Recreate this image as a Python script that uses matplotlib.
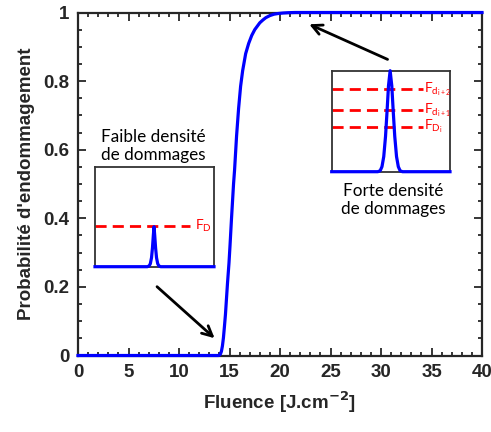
import matplotlib
matplotlib.use("Agg")
import matplotlib.pyplot as plt
from matplotlib.ticker import MultipleLocator

# Main curve
fluence = [0, 13.9, 14.0, 14.1, 14.2, 14.3, 14.4, 14.5, 14.6, 14.7, 14.8, 14.95,
           15.05, 15.2, 15.3, 15.4, 15.5, 15.7, 15.9, 16.1, 16.3, 16.6, 16.9,
           17.2, 17.5, 17.8, 18.0, 18.3, 18.6, 19.0, 19.4, 19.8, 20.3, 20.8,
           21.5, 40]
proba = [0, 0, 0.001, 0.004, 0.012, 0.028, 0.052, 0.085, 0.12, 0.165, 0.21, 0.27,
         0.32, 0.40, 0.45, 0.50, 0.54, 0.64, 0.72, 0.785, 0.83, 0.88, 0.91,
         0.933, 0.95, 0.962, 0.97, 0.978, 0.985, 0.991, 0.995, 0.997, 0.9985,
         0.9994, 1.0, 1.0]

x_ticks = [0, 5, 10, 15, 20, 25, 30, 35, 40]
y_ticks = [0, 0.2, 0.4, 0.6, 0.8, 1]

# Inset left: low damage density
low_x = [0, 0.44, 0.455, 0.465, 0.475, 0.483, 0.49, 0.496, 0.502, 0.509,
         0.517, 0.527, 0.537, 0.552, 1]
low_y = [0, 0, 0.008, 0.03, 0.09, 0.19, 0.31, 0.40, 0.31, 0.19, 0.09, 0.03,
         0.008, 0, 0]
low_levels = [0.41]
low_labels = [r'$\mathregular{F_D}$']

# Inset right: high damage density
high_x = [0, 0.39, 0.41, 0.425, 0.44, 0.455, 0.468, 0.48, 0.494, 0.508, 0.52,
          0.533, 0.548, 0.563, 0.578, 0.598, 1]
high_y = [0, 0, 0.01, 0.05, 0.15, 0.35, 0.60, 0.85, 1.0, 0.85, 0.60, 0.35,
          0.15, 0.05, 0.01, 0, 0]
high_levels = [0.816, 0.61, 0.446]
high_labels = [r'$\mathregular{F_{d_{i+2}}}$', r'$\mathregular{F_{d_{i+1}}}$',
               r'$\mathregular{F_{D_i}}$']

W, H = 491, 432
fig = plt.figure(figsize=(W / 100, H / 100), dpi=100)
ax = fig.add_axes([78 / W, 1 - 355.5 / H, (482 - 78) / W, (355.5 - 12.5) / H])

dark = (0.15, 0.15, 0.15)
ax.plot(fluence, proba, color=(0, 0, 1), lw=2.3, clip_on=False, zorder=5,
        solid_joinstyle='round')
ax.set_xlim(0, 40)
ax.set_ylim(0, 1)
ax.set_xticks(x_ticks)
ax.set_yticks(y_ticks)
ax.set_xticklabels([str(v) for v in x_ticks])
ax.set_yticklabels([('%g' % v) for v in y_ticks])
ax.xaxis.set_minor_locator(MultipleLocator(1))
ax.yaxis.set_minor_locator(MultipleLocator(0.05))
ax.tick_params(which='both', direction='in', top=True, right=True, color=dark,
               width=1.3, labelsize=13.5, labelcolor=dark, pad=6)
ax.tick_params(which='major', length=6)
ax.tick_params(which='minor', length=3)
for lab in ax.get_xticklabels() + ax.get_yticklabels():
    lab.set_fontweight('bold')
    lab.set_family('Liberation Sans')
for s in ax.spines.values():
    s.set_color(dark)
    s.set_linewidth(1.6)
ax.set_xlabel(r'Fluence [J.cm$^{\mathbf{-2}}$]', fontsize=13.5, fontweight='bold',
              color=dark, family='Liberation Sans', labelpad=6)
ax.set_ylabel("Probabilité d'endommagement", fontsize=13.5, fontweight='bold',
              color=dark, family='Liberation Sans', labelpad=6)

# Arrows
ax.annotate('', xy=(13.73, 0.045), xytext=(7.62, 0.206),
            arrowprops=dict(arrowstyle='->', color='black', lw=2, mutation_scale=18))
ax.annotate('', xy=(22.64, 0.969), xytext=(30.9, 0.86),
            arrowprops=dict(arrowstyle='->', color='black', lw=2, mutation_scale=18))


def inset(rect, xs, ys, levels, labels, dash_end, label_x):
    ia = fig.add_axes(rect)
    ia.set_xlim(0, 1)
    ia.set_ylim(0, 1)
    ia.set_xticks([])
    ia.set_yticks([])
    for s in ia.spines.values():
        s.set_color((0.2, 0.2, 0.2))
        s.set_linewidth(1.3)
    for lv, lb in zip(levels, labels):
        ia.plot([0, dash_end], [lv, lv], color=(1, 0, 0), lw=2, ls=(0, (4, 2.2)),
                clip_on=False)
        ia.text(label_x, lv, lb, color=(1, 0, 0), fontsize=10, va='center',
                ha='left', family='Lato')
    ia.plot(xs, ys, color=(0, 0, 1), lw=2.3, clip_on=False, zorder=5,
            solid_joinstyle='round')
    return ia


inset([95 / W, 1 - 266.7 / H, 119 / W, 100 / H], low_x, low_y, low_levels,
      low_labels, 0.8, 0.84)
inset([331.7 / W, 1 - 171.7 / H, 118.3 / W, 101 / H], high_x, high_y, high_levels,
      high_labels, 0.77, 0.78)

fig.text(153 / W, 1 - 146 / H, 'Faible densité\nde dommages', ha='center',
         va='center', fontsize=12.3, family='Lato', linespacing=1.1)
fig.text(393 / W, 1 - 200 / H, 'Forte densité\nde dommages', ha='center',
         va='center', fontsize=12.3, family='Lato', linespacing=1.15)

fig.savefig('out.png', dpi=100)
